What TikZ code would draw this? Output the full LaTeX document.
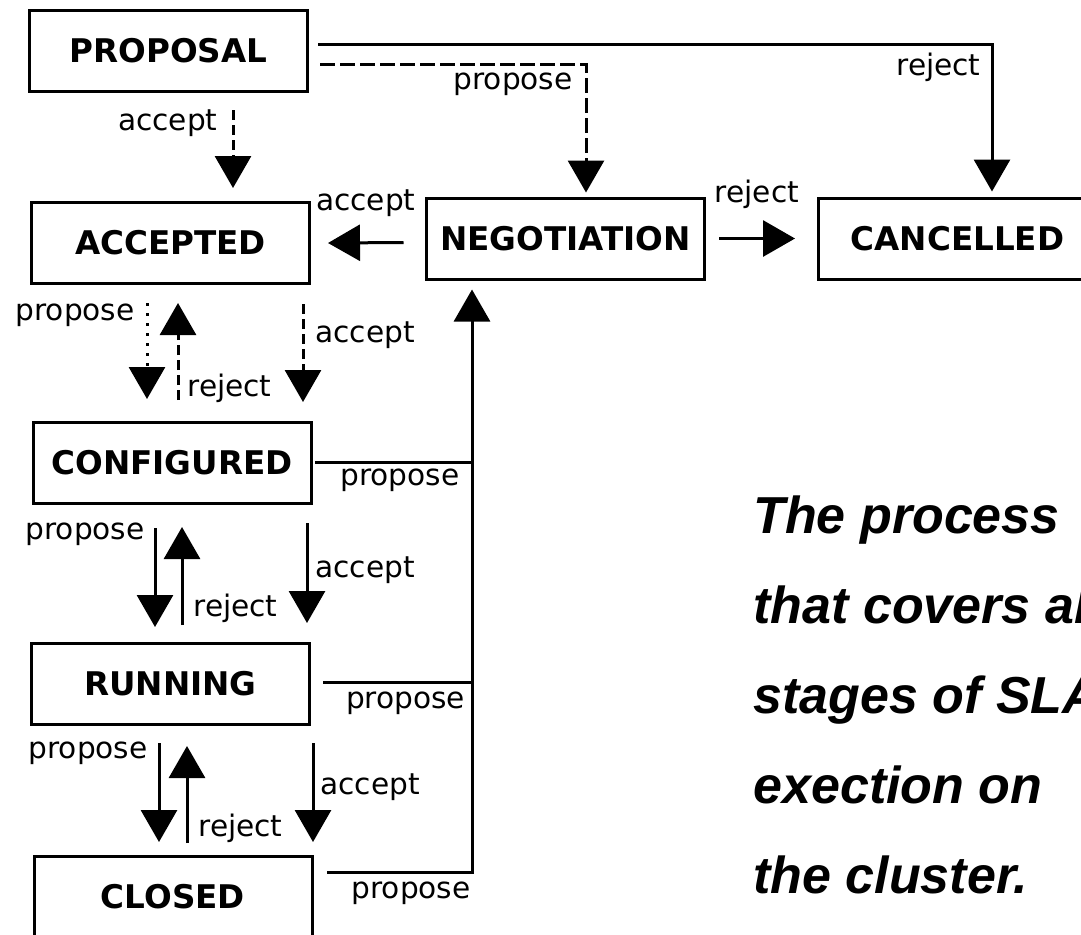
\documentclass[tikz,border=0pt]{standalone}
\usepackage{fontspec}
\usetikzlibrary{arrows.meta,positioning,calc}
\newfontfamily\dejavu{DejaVu Sans}
\newfontfamily\remarkfont{Liberation Sans}
\tikzset{
  stbox/.style={draw,line width=1.5pt,minimum width=139pt,minimum height=40.5pt,inner sep=0pt,
    font=\dejavu\bfseries\fontsize{16.3}{19}\selectfont},
  lbl/.style={inner sep=0pt,font=\dejavu\fontsize{14.8}{17}\selectfont},
  remark/.style={inner sep=0pt,font=\remarkfont\bfseries\itshape\fontsize{26}{30}\selectfont},
  ln/.style={line width=1.5pt},
  ar/.style={ln,-{Triangle[width=18pt,length=16pt]}},
  longdash/.style={dash pattern=on 7.5pt off 2.5pt},
  shortdash/.style={dash pattern=on 5pt off 2.5pt},
  dotline/.style={dash pattern=on 1.5pt off 3.5pt},
}
\begin{document}
\begin{tikzpicture}[x=0.5pt,y=-0.5pt]
\useasboundingbox (0,0) rectangle (1081,934);
\clip (0,0) rectangle (1081,934);
% states
\node[stbox] (prop) at (168.5,51) {PROPOSAL};
\node[stbox,below=54pt of prop,xshift=1pt] (acc) {ACCEPTED};
\node[stbox,right=57pt of acc,yshift=2.25pt] (neg) {NEGOTIATION};
\node[stbox,right=55.5pt of neg] (canc) {CANCELLED};
\node[stbox,below=68pt of acc,xshift=0.75pt] (conf) {CONFIGURED};
\node[stbox,below=68.5pt of conf,xshift=-0.75pt] (run) {RUNNING};
\node[stbox,below=64.5pt of run,xshift=1.25pt] (clos) {CLOSED};
\coordinate (trunk) at ($(neg.south)+(-93.5,9)$);
% from proposal and negotiation
\draw[ar] ($(prop.east)+(9,-7)$) -| ($(canc.north)+(34.5,-5)$) node[lbl,left=5pt,pos=0.58] (rej1) {reject};
\draw[ar,longdash] ($(prop.east)+(11,13)$) -| ($(neg.north)+(20.5,-4)$) node[lbl,left=6pt,pos=0.58] (prp1) {propose};
\draw[ar,shortdash] ($(prop.south)+(64.5,17)$) -- ($(acc.north)+(62.5,-13)$) node[lbl,left=7pt,pos=0.17] (acc1) {accept};
\draw[ar] ($(neg.west)+(-21.5,4)$) -- ($(acc.east)+(17,0)$) node[lbl,above=12.5pt,pos=0.5] (acc2) {accept};
\draw[ar] ($(neg.east)+(13,0)$) -- ($(canc.west)+(-22,0)$) node[lbl,above=14pt,pos=0.5] (rej2) {reject};
% accepted <-> configured
\draw[ar,dotline] ($(acc.south)+(-23.5,18)$) -- ($(conf.north)+(-25,-22)$) node[lbl,left=5.5pt,pos=0.125] (prp2) {propose};
\draw[ar,shortdash] ($(conf.north)+(6,-21)$) -- ($(acc.south)+(7.5,18)$) node[lbl,right=4pt,pos=0.12] (rej3) {reject};
\draw[ar,shortdash] ($(acc.south)+(132.5,19)$) -- ($(conf.north)+(131,-19)$) node[lbl,right=5.5pt,pos=0.32] (acc3) {accept};
% configured <-> running
\draw[ar] ($(conf.south)+(-17,23)$) -- ($(run.north)+(-15.5,-15)$) node[lbl,left=4.5pt,pos=0.06] (prp3) {propose};
\draw[ar] ($(run.north)+(11.5,-17)$) -- ($(conf.south)+(10,22)$) node[lbl,right=5pt,pos=0.17] (rej4) {reject};
\draw[ar] ($(conf.south)+(135,18)$) -- ($(run.north)+(136.5,-19)$) node[lbl,right=3.5pt,pos=0.47] (acc4) {accept};
% running <-> closed
\draw[ar] ($(run.south)+(-11.5,17)$) -- ($(clos.north)+(-14,-13)$) node[lbl,left=5pt,pos=0.1] (prp4) {propose};
\draw[ar] ($(clos.north)+(14,-12)$) -- ($(run.south)+(16.5,20)$) node[lbl,right=5pt,pos=0.155] (rej5) {reject};
\draw[ar] ($(run.south)+(142.5,17)$) -- ($(clos.north)+(140,-13)$) node[lbl,right=3pt,pos=0.45] (acc5) {accept};
% back to negotiation
\draw[ln,shorten >=15pt] ($(clos.east)+(13.5,-25)$) -| (trunk) node[lbl,below=4.4pt,pos=0.29] (prp7) {propose};
\draw[ln,shorten >=15pt] ($(run.east)+(12,-2)$) -| (trunk) node[lbl,below=4.4pt,pos=0.277] (prp6) {propose};
\draw[ar] ($(conf.east)+(2.5,-1)$) -| (trunk) node[lbl,below=2.5pt,pos=0.27] (prp5) {propose};
% remark
\foreach \txt [count=\i from 0] in {The process,that covers all,stages of SLA,exection on,the cluster.}
  \node[remark,anchor=base west] (rem\i) at (753,533+90*\i) {\txt};
\end{tikzpicture}
\end{document}
